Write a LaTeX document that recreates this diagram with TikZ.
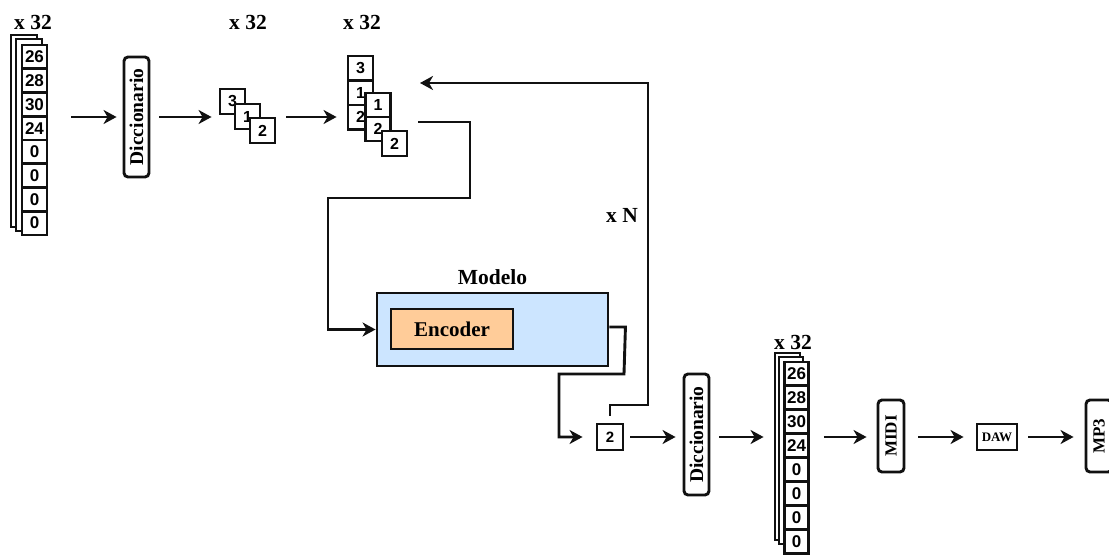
\documentclass[tikz,border=0pt]{standalone}
\usepackage{fontspec}
\setmainfont{Liberation Serif}
\newfontfamily\numfont{Liberation Sans}
\usetikzlibrary{arrows.meta}
\definecolor{modelblue}{HTML}{CCE5FF}
\definecolor{encorange}{HTML}{FFCC99}
\definecolor{ink}{HTML}{111111}
\begin{document}
\begin{tikzpicture}[x=1pt,y=-1pt,
  box/.style={draw=ink, fill=white, line width=2.9pt, inner sep=0pt},
  layer/.style={box},
  cell/.style={box, minimum width=25pt, minimum height=23.75pt, font=\numfont\bfseries\fontsize{17}{17}\selectfont},
  cellb/.style={box, minimum width=24pt, minimum height=23.9pt, font=\numfont\bfseries\fontsize{17}{17}\selectfont},
  sq/.style={box, minimum width=25pt, minimum height=25pt, font=\numfont\bfseries\fontsize{16}{16}\selectfont},
  dict/.style={box, rounded corners=4pt, minimum width=25pt, minimum height=120pt, font=\bfseries\fontsize{19.5}{19.5}\selectfont},
  lbl/.style={inner sep=0pt, font=\bfseries\fontsize{21.5}{21.5}\selectfont},
  conn/.style={draw=ink, line width=2.9pt},
  arr/.style={conn, -{Stealth[length=13pt,width=14pt,inset=4pt]}}
]
\useasboundingbox (0,0) rectangle (1109,556);

% ---------- stack 1 ----------
\node[lbl] (x32a) at (33,22) {x 32};
\node[layer, minimum width=26pt, minimum height=192pt] (sal1) at (24,131) {};
\node[layer, minimum width=26pt, minimum height=192pt] (sal2) at (29,135) {};
\foreach \v [count=\i from 0] in {26,28,30,24,0,0,0,0}
  \node[cell] (sa\i) at (34.5,{45+(\i+0.5)*23.75}) {\v};

% ---------- dictionary 1 ----------
\node[dict] (d1) at (136.5,117) {\rotatebox{90}{Diccionario}};

% ---------- group A ----------
\node[lbl] (x32b) at (248,22) {x 32};
\node[sq] (a3) at (232.5,101.5) {3};
\node[sq] (a1) at (247.5,116.5) {1};
\node[sq] (a2) at (262.5,130.5) {2};

% ---------- group B ----------
\node[lbl] (x32c) at (362,22) {x 32};
\node[sq, minimum height=24.5pt] (b13) at (360.5,68.25) {3};
\node[sq, minimum height=24.5pt] (b11) at (360.5,92.75) {1};
\node[sq, minimum height=24.5pt] (b12) at (360.5,117.25) {2};
\node[sq, minimum height=24pt, minimum width=24.5pt] (b21) at (378,105) {1};
\node[sq, minimum height=24pt, minimum width=24.5pt] (b22) at (378,129) {2};
\node[sq] (b32) at (394.5,143.5) {2};

% ---------- model ----------
\node[lbl] (modelo) at (492.5,277) {Modelo};
\node[box, fill=modelblue, minimum width=231pt, minimum height=73pt] (model) at (492.5,329.5) {};
\node[box, fill=encorange, minimum width=122pt, minimum height=40pt, font=\bfseries\fontsize{21}{21}\selectfont] (enc) at (452,329) {Encoder};

% ---------- output token ----------
\node[sq, minimum width=26pt, minimum height=26pt, font=\numfont\bfseries\fontsize{15}{15}\selectfont] (c2) at (610,437) {2};
\node[lbl] (xN) at (622,215) {x N};

% ---------- dictionary 2 ----------
\node[dict, minimum height=121pt] (d2) at (696.5,434.5) {\rotatebox{90}{Diccionario}};

% ---------- stack 2 ----------
\node[lbl] (x32d) at (793,342) {x 32};
\node[layer, minimum width=25pt, minimum height=187pt] (sbl1) at (787.5,446.5) {};
\node[layer, minimum width=24pt, minimum height=187pt] (sbl2) at (791,450.5) {};
\foreach \v [count=\i from 0] in {26,28,30,24,0,0,0,0}
  \node[cellb] (sb\i) at (796.5,{362+(\i+0.5)*23.9}) {\v};

% ---------- outputs ----------
\node[box, rounded corners=4pt, minimum width=26pt, minimum height=72pt, font=\bfseries\fontsize{17}{17}\selectfont] (midi) at (891,436) {\rotatebox{90}{MIDI}};
\node[box, minimum width=40pt, minimum height=26pt, font=\bfseries\fontsize{13}{13}\selectfont] (daw) at (997,437) {DAW};
\node[box, rounded corners=4pt, minimum width=26pt, minimum height=72pt, font=\bfseries\fontsize{17}{17}\selectfont] (mp3) at (1099,436) {\rotatebox{90}{MP3}};

% ---------- connectors ----------
\draw[arr, shorten <=23pt, shorten >=6pt] (d1.west -| sa0.east) -- (d1.west);
\draw[arr, shorten <=9pt, shorten >=7pt] (d1.east) -- (d1.east -| a3.west);
\draw[arr, shorten <=10pt, shorten >=10pt] (d1.east -| a2.east) -- (d1.east -| b12.west);

\coordinate (ls) at (418,122);
\draw[arr] (ls) -- (470,122) -- (470,198) -- (328,198) |- (model.west);

\draw[arr, shorten >=13pt] ([yshift=2.5pt]model.east) -- ++(16,0) -- (624,374) -- (559,374) |- (c2.west);

\coordinate (fb) at (420,83);
\draw[arr, shorten <=7pt] (c2.north) -- (610,405) -- (648,405) -- (648,83) -- (fb);

\draw[arr, shorten <=6pt, shorten >=7pt] (c2.east) -- (c2 -| d2.west);
\draw[arr, shorten <=9pt, shorten >=10pt] (c2 -| d2.east) -- (c2 -| sbl1.west);
\draw[arr, shorten <=14pt, shorten >=10pt] (c2 -| sb0.east) -- (c2 -| midi.west);
\draw[arr, shorten <=13pt, shorten >=12pt] (c2 -| midi.east) -- (daw.west);
\draw[arr, shorten <=10pt, shorten >=11pt] (daw.east) -- (c2 -| mp3.west);
\end{tikzpicture}
\end{document}
